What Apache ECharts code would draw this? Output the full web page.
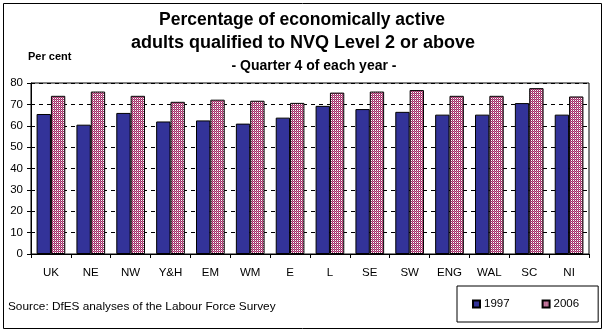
<!DOCTYPE html>
<html><head><meta charset="utf-8">
<script src="https://cdn.jsdelivr.net/npm/echarts@6/dist/echarts.min.js"></script>
<style>html,body{margin:0;padding:0;background:#fff}#c{width:604px;height:332px}</style>
</head><body><div id="c"></div>
<script>
var categories = ['UK','NE','NW','Y&H','EM','WM','E','L','SE','SW','ENG','WAL','SC','NI'];
var v1997 = [65.5, 60.5, 66.0, 62.0, 62.5, 61.0, 63.8, 69.3, 67.8, 66.5, 65.2, 65.2, 70.6, 65.2];
var v2006 = [74.0, 76.0, 74.0, 71.2, 72.2, 71.7, 70.7, 75.5, 76.0, 76.7, 74.0, 74.0, 77.6, 73.7];
var seriesNames = ['1997', '2006'];
var yTicks = [0, 10, 20, 30, 40, 50, 60, 70, 80];

var pc = document.createElement('canvas');
pc.width = 2; pc.height = 2;
var g = pc.getContext('2d');
g.fillStyle = '#993366'; g.fillRect(0, 0, 1, 1); g.fillRect(1, 1, 1, 1);
g.fillStyle = '#ffffff'; g.fillRect(1, 0, 1, 1);
g.fillStyle = '#cc6699'; g.fillRect(0, 1, 1, 1);
var pattern = {image: pc, repeat: 'repeat'};

var font = 'Liberation Sans, Arial, sans-serif';
var chart = echarts.init(document.getElementById('c'), null, {renderer: 'canvas'});
chart.setOption({
  animation: false,
  textStyle: {fontFamily: font, color: '#000'},
  grid: {left: 31, top: 83, right: 15, bottom: 78, show: true, borderColor: '#000', borderWidth: 1, backgroundColor: 'transparent'},
  graphic: [
    {type: 'rect', shape: {x: 3.5, y: 3.5, width: 598, height: 325}, style: {fill: 'none', stroke: '#000', lineWidth: 1}, silent: true, z: -1},
    {type: 'text', x: 302, y: 11, style: {text: 'Percentage of economically active', font: 'bold 17.5px ' + font, fill: '#000', align: 'center'}},
    {type: 'text', x: 303, y: 34, style: {text: 'adults qualified to NVQ Level 2 or above', font: 'bold 18px ' + font, fill: '#000', align: 'center'}},
    {type: 'text', x: 314, y: 59, style: {text: '- Quarter 4 of each year -', font: 'bold 14px ' + font, fill: '#000', align: 'center'}},
    {type: 'text', x: 28, y: 51, style: {text: 'Per cent', font: 'bold 11px ' + font, fill: '#000'}},
    {type: 'text', x: 8, y: 301, style: {text: 'Source: DfES analyses of the Labour Force Survey', font: '11.8px ' + font, fill: '#000'}}
  ],
  legend: {
    data: seriesNames,
    left: 457, top: 286,
    orient: 'horizontal',
    padding: [12, 19, 12, 15],
    itemGap: 32, itemWidth: 7, itemHeight: 7,
    borderColor: '#000', borderWidth: 1,
    textStyle: {fontSize: 11.5, color: '#000', fontFamily: font, padding: [0, 0, 0, -1]},
    icon: 'rect'
  },
  xAxis: {
    type: 'category', data: categories,
    axisLine: {lineStyle: {color: '#000', width: 1}},
    axisTick: {show: true, length: 4, lineStyle: {color: '#000'}},
    axisLabel: {color: '#000', fontSize: 11.5, margin: 13, interval: 0}
  },
  yAxis: {
    type: 'value', min: 0, max: 80, interval: 10,
    axisLine: {show: true, lineStyle: {color: '#000', width: 1}},
    axisTick: {show: true, length: 4, lineStyle: {color: '#000'}},
    axisLabel: {color: '#000', fontSize: 11.5, margin: 8, formatter: function (v) { return yTicks.indexOf(v) >= 0 ? String(v) : ''; }},
    splitLine: {show: true, lineStyle: {color: '#000', type: [4, 4], width: 1}}
  },
  series: [
    {name: seriesNames[0], type: 'bar', data: v1997, barGap: '0%', barCategoryGap: '28%',
     itemStyle: {color: '#333399', borderColor: '#000', borderWidth: 1}},
    {name: seriesNames[1], type: 'bar', data: v2006,
     itemStyle: {color: pattern, borderColor: '#000', borderWidth: 1}}
  ]
});
</script></body></html>
